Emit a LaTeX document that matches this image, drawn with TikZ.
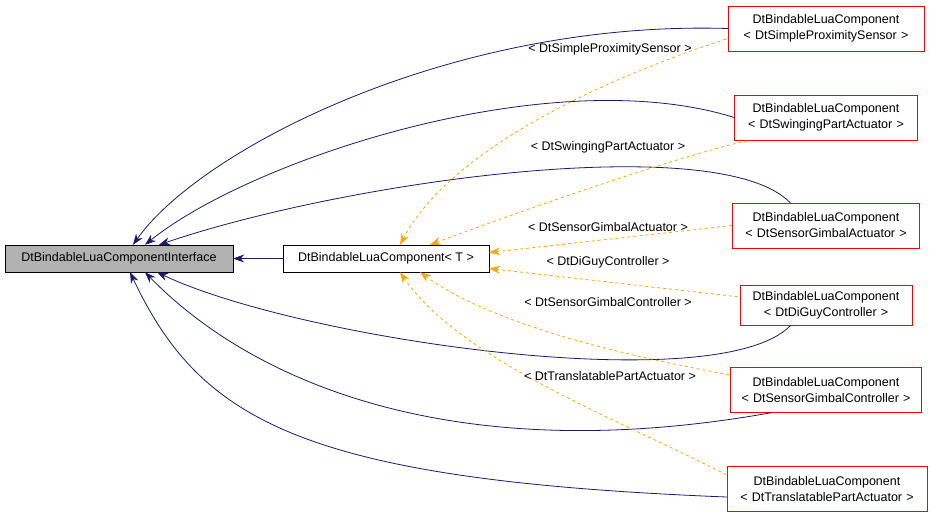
\documentclass[tikz,border=0pt]{standalone}
\usepackage{fontspec}
\setmainfont{Liberation Sans}
\usetikzlibrary{arrows.meta,calc}
\definecolor{edgeblue}{RGB}{25,25,112}
\definecolor{edgeorange}{RGB}{255,165,0}
\begin{document}
\begin{tikzpicture}[x=1pt,y=-1pt,>={Stealth[length=11pt,width=8pt]},font=\fontsize{12.5}{16}\selectfont,
    box/.style={draw,rectangle,inner sep=3pt,align=center},
    child/.style={box,draw=red,minimum height=45pt},
    inh/.style={<-,draw=edgeblue,thick},
    tpl/.style={<-,draw=edgeorange,dashed,thick},
    lbl/.style={font=\fontsize{12.5}{15}\selectfont}]
    \useasboundingbox (0,0) rectangle (936,517);

    \node[box,fill=black!30,minimum width=228pt,minimum height=27pt] (I) at (119,258.5) {DtBindableLuaComponentInterface};
    \node[box,minimum width=206pt,minimum height=27pt] (T) at (386,258.5) {DtBindableLuaComponent\textless{} T \textgreater};

    \node[child,text width=190pt] (S1) at (826,28.5) {DtBindableLuaComponent\\\textless{} DtSimpleProximitySensor \textgreater};
    \node[child,text width=177pt] (S2) at (826,117.5) {DtBindableLuaComponent\\\textless{} DtSwingingPartActuator \textgreater};
    \node[child,text width=181pt] (S3) at (826,225.5) {DtBindableLuaComponent\\\textless{} DtSensorGimbalActuator \textgreater};
    \node[child,text width=166pt,minimum height=40pt] (S4) at (826,305) {DtBindableLuaComponent\\\textless{} DtDiGuyController \textgreater};
    \node[child,text width=185pt] (S5) at (826,390) {DtBindableLuaComponent\\\textless{} DtSensorGimbalController \textgreater};
    \node[child,text width=194pt] (S6) at (827,489) {DtBindableLuaComponent\\\textless{} DtTranslatablePartActuator \textgreater};

    % inheritance
    \draw[inh] (I) -- (T);
    \draw[inh] ($(I.north)+(14,0)$) .. controls (200,150) and (450,20) .. (S1.west);
    \draw[inh] ($(I.north)+(26,0)$) .. controls (250,160) and (550,60) .. (S2.west);
    \draw[inh] ($(I.north)+(40,0)$) .. controls (350,180) and (720,130) .. ($(S3.north west)+(58,0)$);
    \draw[inh] ($(I.south)+(38,0)$) .. controls (300,340) and (720,400) .. ($(S4.south west)+(51,0)$);
    \draw[inh] ($(I.south)+(26,0)$) .. controls (250,380) and (450,470) .. ($(S5.south west)+(41,0)$);
    \draw[inh] ($(I.south)+(11,0)$) .. controls (200,420) and (300,480) .. ($(S6.west)+(0,8)$);

    % template instances
    \draw[tpl] ($(T.north)+(14,0)$) .. controls (450,150) and (600,80) .. ($(S1.west)+(0,10)$);
    \draw[tpl] ($(T.north)+(44,0)$) .. controls (550,200) and (700,150) .. ($(S2.south west)+(16,0)$);
    \draw[tpl] ($(T.east)+(0,-6)$) -- (S3.west);
    \draw[tpl] ($(T.east)+(0,10)$) -- ($(S4.west)+(0,-8)$);
    \draw[tpl] ($(T.south)+(34,0)$) .. controls (500,330) and (650,360) .. ($(S5.west)+(0,-15)$);
    \draw[tpl] ($(T.south)+(14,0)$) .. controls (460,360) and (620,420) .. ($(S6.west)+(0,-14)$);

    \node[lbl] (l1) at (610,49) {\textless{} DtSimpleProximitySensor \textgreater};
    \node[lbl] (l2) at (608,147) {\textless{} DtSwingingPartActuator \textgreater};
    \node[lbl] (l3) at (608,227) {\textless{} DtSensorGimbalActuator \textgreater};
    \node[lbl] (l4) at (608,262) {\textless{} DtDiGuyController \textgreater};
    \node[lbl] (l5) at (608,302) {\textless{} DtSensorGimbalController \textgreater};
    \node[lbl] (l6) at (610,376) {\textless{} DtTranslatablePartActuator \textgreater};
\end{tikzpicture}
\end{document}
